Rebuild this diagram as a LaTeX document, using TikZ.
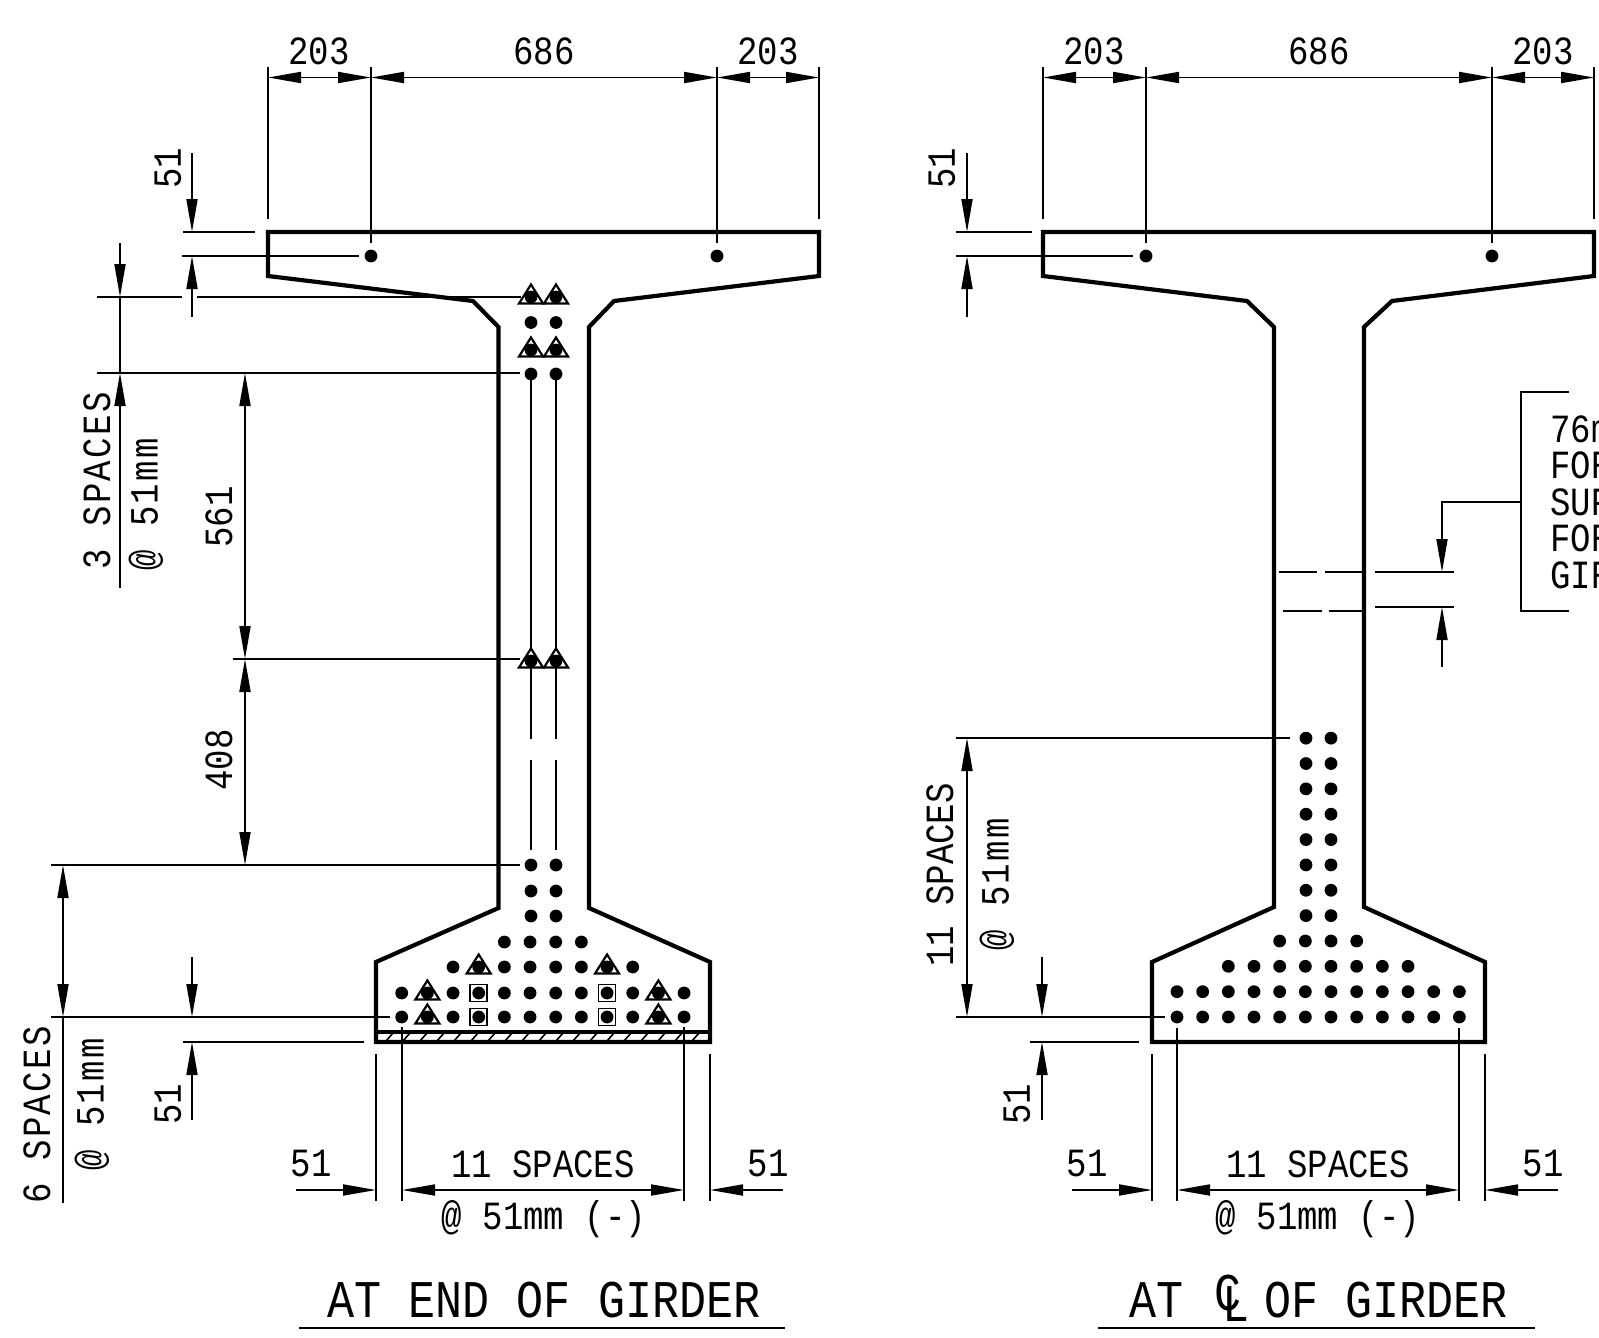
\documentclass[tikz,border=0pt]{standalone}
\usepackage{fontspec}
\setmainfont{Liberation Mono}[FakeStretch=0.85]
\usetikzlibrary{arrows.meta}
\newcommand{\clmark}{\makebox[0pt][l]{\hspace{.08em}\raisebox{.12em}{C}}\makebox[0pt][l]{\hspace{.22em}\raisebox{-.09em}{L}}\hphantom{C}}
\begin{document}
\begin{tikzpicture}[x = 1pt, y = -1pt,
    girder/.style = {line width = 4.2pt, line join = miter},
    thin line/.style = {line width = 1.8pt},
    title rule/.style = {line width = 2.8pt},
    tendon/.style = {line width = 2.2pt, fill = white},
    dim/.style = {thin line, {Triangle[length = 33pt, width = 11pt]}-{Triangle[length = 33pt, width = 11pt]}},
    dimto/.style = {thin line, -{Triangle[length = 33pt, width = 11pt]}},
    dimtext/.style = {inner sep = 0pt, font = \fontsize{40}{48}\selectfont},
    dimwide/.style = {inner sep = 0pt, font = \fontsize{40}{48}\selectfont\addfontfeature{LetterSpace = 6}},
    heading/.style = {inner sep = 0pt, anchor = base, font = \fontsize{53}{60}\selectfont}]
  \useasboundingbox (0, 0) rectangle (1599, 1338);

  % end of girder
  \draw[girder] (268, 232) -- (819, 232) -- (819, 276) -- (614, 301) -- (589, 327) -- (589, 908)
    -- (710, 962) -- (710, 1042) -- (376, 1042) -- (376, 962) -- (498.5, 908) -- (498.5, 327)
    -- (473, 301) -- (268, 276) -- cycle;
  \draw[line width = 3.4pt] (376, 1032) -- (710, 1032);
  \foreach \x in {386, 403, ..., 700}
    \draw[line width = 1.6pt] (\x, 1041) -- (\x + 7, 1033);

  \foreach \x in {268, 819} \draw[thin line] (\x, 67) -- (\x, 219);
  \foreach \x in {371, 717} \draw[thin line] (\x, 67) -- (\x, 243);
  \draw[dim] (268, 77.5) -- (371, 77.5);
  \draw[dim] (371, 77.5) -- (717, 77.5);
  \draw[dim] (717, 77.5) -- (819, 77.5);
  \node[dimtext] (topa) at (319, 51) {203};
  \node[dimtext] (topb) at (544, 51) {686};
  \node[dimtext] (topc) at (768, 51) {203};

  \draw[thin line] (183, 232) -- (255, 232);
  \draw[thin line] (182, 256) -- (359, 256);
  \draw[dimto] (192, 153) -- (192, 232);
  \draw[dimto] (192, 317) -- (192, 256);
  \node[dimtext, rotate = 90] (flangea) at (168, 168) {51};

  \draw[thin line] (97, 297) -- (182, 297);
  \draw[thin line] (197, 297) -- (521, 297);
  \draw[thin line] (97, 373) -- (520, 373);
  \draw[thin line] (233, 659) -- (520, 659);
  \draw[thin line] (51, 865) -- (520, 865);
  \draw[thin line] (51, 1017) -- (390, 1017);
  \draw[thin line] (183, 1042) -- (364, 1042);

  \draw[dimto] (120, 243) -- (120, 297);
  \draw[thin line] (120, 297) -- (120, 373);
  \draw[dimto] (120, 588) -- (120, 373);
  \node[dimwide, rotate = 90] (spacesa) at (97, 481) {3 SPACES};
  \node[dimwide, rotate = 90] (pitcha) at (146, 504) {@ 51mm};

  \draw[dim] (245, 373) -- (245, 659);
  \draw[dim] (245, 659) -- (245, 865);
  \node[dimtext, rotate = 90] (webb) at (219, 517) {561};
  \node[dimtext, rotate = 90] (webc) at (219, 760) {408};

  \draw[dim] (63, 865) -- (63, 1017);
  \draw[thin line] (63, 1017) -- (63, 1203);
  \node[dimwide, rotate = 90] (spacesb) at (37, 1115) {6 SPACES};
  \node[dimwide, rotate = 90] (pitchb) at (92, 1104) {@ 51mm};

  \draw[dimto] (192, 957) -- (192, 1017);
  \draw[dimto] (192, 1120) -- (192, 1042);
  \node[dimtext, rotate = 90] (flangeb) at (168, 1104) {51};

  \foreach \x in {376, 710} \draw[thin line] (\x, 1054) -- (\x, 1201);
  \foreach \x in {402, 684} \draw[thin line] (\x, 1027) -- (\x, 1201);
  \draw[dimto] (296, 1190) -- (376, 1190);
  \draw[dimto] (783, 1190) -- (710, 1190);
  \draw[dim] (402, 1190) -- (684, 1190);
  \node[dimtext] (sidea) at (311, 1164) {51};
  \node[dimtext] (sideb) at (768, 1164) {51};
  \node[dimtext] (rowa) at (543, 1164) {11 SPACES};
  \node[dimtext] (rowb) at (544, 1219) {@ 51mm (-)};

  \node[heading] (titlea) at (544, 1317) {AT END OF GIRDER};
  \draw[title rule] (299, 1328) -- (785, 1328);

  % strands, end of girder
  \foreach \x in {371, 717} \fill (\x, 256) circle (6.4);
  \foreach \x in {531, 556} {
    \draw[thin line] (\x, 374) -- (\x, 739);
    \draw[thin line] (\x, 760) -- (\x, 850);
    \foreach \y in {322.5, 374, 865, 891, 916} \fill (\x, \y) circle (6.4);
    \foreach \y in {297, 350, 661} {
      \draw[tendon] (\x - 12, \y + 6.5) -- (\x, \y - 12.5) -- (\x + 12, \y + 6.5) -- cycle;
      \fill (\x, \y) circle (6.4);
    }
  }
  \foreach \i in {4, ..., 7} \fill (401.7 + \i * 25.67, 942) circle (6.4);
  \foreach \i in {2, 4, 5, 6, 7, 9} \fill (401.7 + \i * 25.67, 967) circle (6.4);
  \foreach \y in {993, 1017} {
    \foreach \i in {0, 2, 4, 5, 6, 7, 9, 11} \fill (401.7 + \i * 25.67, \y) circle (6.4);
    \foreach \i in {3, 8} {
      \draw[thin line] (401.7 + \i * 25.67 - 8.5, \y - 8.5) rectangle (401.7 + \i * 25.67 + 8.5, \y + 8.5);
      \fill (401.7 + \i * 25.67, \y) circle (6.4);
    }
  }
  \foreach \i/\y in {1/993, 10/993, 1/1017, 10/1017, 3/967, 8/967} {
    \draw[tendon] (401.7 + \i * 25.67 - 12, \y + 6.5) -- (401.7 + \i * 25.67, \y - 12.5) -- (401.7 + \i * 25.67 + 12, \y + 6.5) -- cycle;
    \fill (401.7 + \i * 25.67, \y) circle (6.4);
  }

  % centre line of girder
  \draw[girder] (1043, 232) -- (1594, 232) -- (1594, 276) -- (1392, 301) -- (1364, 327) -- (1364, 907)
    -- (1485, 962) -- (1485, 1042) -- (1152, 1042) -- (1152, 962) -- (1274, 907) -- (1274, 327)
    -- (1247, 301) -- (1043, 276) -- cycle;

  \foreach \x in {1043, 1594} \draw[thin line] (\x, 67) -- (\x, 219);
  \foreach \x in {1146, 1492} \draw[thin line] (\x, 67) -- (\x, 243);
  \draw[dim] (1043, 77.5) -- (1146, 77.5);
  \draw[dim] (1146, 77.5) -- (1492, 77.5);
  \draw[dim] (1492, 77.5) -- (1594, 77.5);
  \node[dimtext] (topd) at (1094, 51) {203};
  \node[dimtext] (tope) at (1319, 51) {686};
  \node[dimtext] (topf) at (1543, 51) {203};

  \draw[thin line] (956, 232) -- (1032, 232);
  \draw[thin line] (956, 256) -- (1133, 256);
  \draw[dimto] (967, 153) -- (967, 232);
  \draw[dimto] (967, 317) -- (967, 256);
  \node[dimtext, rotate = 90] (flangec) at (942, 168) {51};

  \draw[thin line] (956, 738) -- (1290, 738);
  \draw[thin line] (956, 1017) -- (1165, 1017);
  \draw[thin line] (1030, 1042) -- (1139, 1042);
  \draw[dim] (967, 738) -- (967, 1017);
  \node[dimtext, rotate = 90] (spacesc) at (940, 875) {11 SPACES};
  \node[dimwide, rotate = 90] (pitchc) at (997, 884) {@ 51mm};

  \draw[dimto] (1042, 957) -- (1042, 1017);
  \draw[dimto] (1042, 1120) -- (1042, 1042);
  \node[dimtext, rotate = 90] (flanged) at (1017, 1104) {51};

  \foreach \x in {1152, 1485} \draw[thin line] (\x, 1054) -- (\x, 1201);
  \foreach \x in {1177, 1459} \draw[thin line] (\x, 1028) -- (\x, 1201);
  \draw[dimto] (1072, 1190) -- (1152, 1190);
  \draw[dimto] (1558, 1190) -- (1485, 1190);
  \draw[dim] (1177, 1190) -- (1459, 1190);
  \node[dimtext] (sidec) at (1087, 1164) {51};
  \node[dimtext] (sided) at (1543, 1164) {51};
  \node[dimtext] (rowc) at (1318, 1164) {11 SPACES};
  \node[dimtext] (rowd) at (1318, 1219) {@ 51mm (-)};

  \node[heading] (titleb) at (1318.5, 1317) {AT \clmark{} OF GIRDER};
  \draw[title rule] (1098, 1328) -- (1535, 1328);

  % duct and note
  \draw[thin line] (1279, 572) -- (1317, 572);
  \draw[thin line] (1325, 572) -- (1364, 572);
  \draw[thin line] (1283, 611) -- (1322, 611);
  \draw[thin line] (1329, 611) -- (1364, 611);
  \draw[thin line] (1375, 572) -- (1454, 572);
  \draw[thin line] (1375, 607) -- (1454, 607);
  \draw[dimto] (1521, 502) -- (1442, 502) -- (1442, 572);
  \draw[dimto] (1442, 667) -- (1442, 607);
  \draw[thin line] (1569, 392) -- (1521, 392) -- (1521, 611) -- (1569, 611);
  \foreach \y/\note [count = \i] in {429/76m, 465/FOR, 502/SUP, 538/FOR, 575/GIR}
    \node[dimtext, anchor = west] (note\i) at (1550, \y) {\note};

  % strands, centre line of girder
  \foreach \x in {1146, 1492} \fill (\x, 256) circle (6.4);
  \foreach \y in {0, 1} \foreach \i in {0, ..., 11} \fill (1177 + \i * 25.67, 1017 - \y * 25.35) circle (6.4);
  \foreach \i in {2, ..., 9} \fill (1177 + \i * 25.67, 966.3) circle (6.4);
  \foreach \i in {4, ..., 7} \fill (1177 + \i * 25.67, 941) circle (6.4);
  \foreach \y in {4, ..., 11} \foreach \x in {1306, 1331} \fill (\x, 1017 - \y * 25.35) circle (6.4);
\end{tikzpicture}
\end{document}
